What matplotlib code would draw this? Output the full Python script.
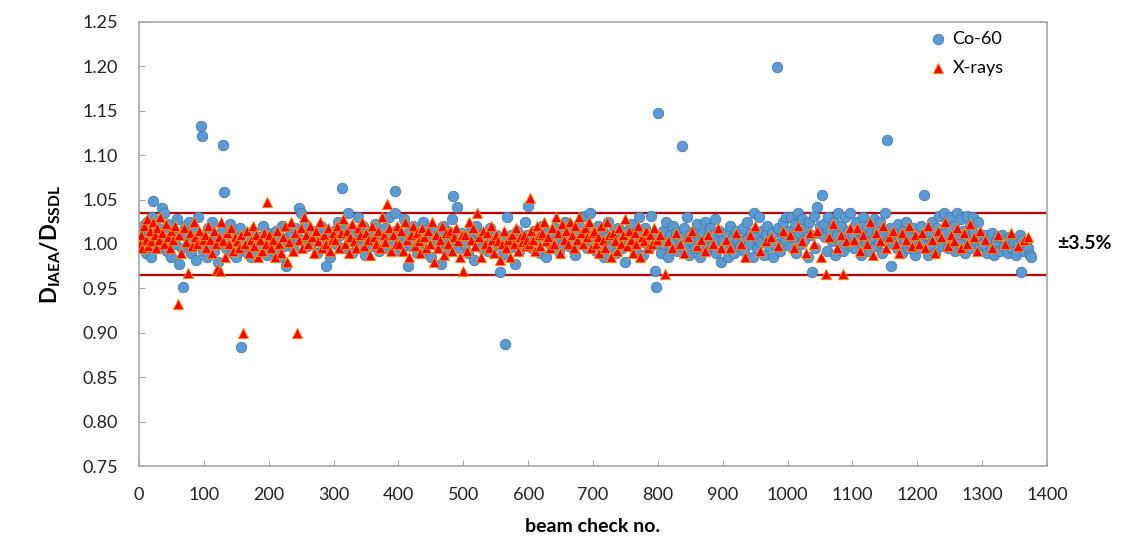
import matplotlib
matplotlib.use('Agg')
import matplotlib.pyplot as plt

plt.rcParams['font.family'] = ['Lato', 'DejaVu Sans']
plt.rcParams['mathtext.fontset'] = 'custom'
plt.rcParams['mathtext.rm'] = 'Lato'
plt.rcParams['mathtext.bf'] = 'Lato:bold'

# Co-60 beam checks (beam check no., D_IAEA/D_SSDL)
co60_x = [2, 4, 6, 9, 11, 13, 15, 18, 20, 22,
          25, 27, 29, 32, 35, 38, 40, 43, 45, 48,
          50, 53, 55, 58, 61, 63, 66, 68, 71, 74,
          77, 80, 83, 86, 88, 91, 94, 96, 97, 99,
          102, 105, 107, 110, 113, 116, 119, 122, 125, 128,
          130, 131, 134, 137, 140, 143, 146, 149, 152, 155,
          158, 161, 164, 167, 170, 173, 176, 179, 182, 185,
          188, 191, 194, 197, 199,
          202, 205, 208, 211, 214, 217, 220, 223, 226, 229,
          232, 235, 238, 241, 244, 247, 250, 253, 256, 259,
          262, 265, 268, 271, 274, 277, 280, 283, 286, 289,
          292, 295, 298,
          301, 304, 307, 310, 313, 316, 319, 322, 325, 328,
          331, 334, 337, 340, 343, 346, 349, 352, 355, 358,
          361, 364, 367, 370, 373, 376, 379, 382, 385, 388,
          391, 394, 395, 397, 399,
          402, 405, 408, 411, 414, 417, 420, 423, 426, 429,
          432, 435, 438, 441, 444, 447, 450, 453, 456, 459,
          462, 465, 468, 471, 474, 477, 480, 483, 484, 487,
          490, 493, 496, 499,
          502, 505, 508, 511, 514, 517, 520, 523, 526, 529,
          532, 535, 538, 541, 544, 547, 550, 553, 556, 559,
          562, 565, 568, 571, 574, 577, 580, 583, 586, 589,
          592, 595, 598, 600,
          603, 606, 609, 612, 615, 618, 621, 624, 627, 630,
          633, 636, 639, 642, 645, 648, 651, 654, 657, 660,
          663, 666, 669, 672, 675, 678, 681, 684, 687, 690,
          693, 696, 699,
          702, 705, 708, 711, 714, 717, 720, 723, 726, 729,
          732, 735, 738, 741, 744, 747, 750, 753, 756, 759,
          762, 765, 768, 771, 774, 777, 780, 783, 786, 789,
          792, 795, 797, 799, 800,
          803, 805, 808, 810, 813, 815, 818, 820, 823, 825,
          828, 830, 833, 835, 838, 840, 843, 845, 848, 850,
          853, 855, 858, 860, 863, 865, 868, 870, 873, 875,
          878, 880, 883, 885, 888, 890, 893, 895, 898,
          901, 903, 906, 908, 911, 913, 916, 918, 921, 923,
          926, 928, 931, 933, 936, 938, 941, 943, 946, 948,
          951, 953, 956, 958, 961, 963, 966, 968, 971, 973,
          976, 978, 981, 983, 986, 988, 991, 993, 996, 998,
          1001, 1003, 1006, 1008, 1011, 1013, 1016, 1018, 1021, 1023,
          1026, 1028, 1031, 1033, 1036, 1038, 1041, 1043, 1046, 1048,
          1050, 1053, 1056, 1058, 1061, 1063, 1066, 1068, 1071, 1073,
          1076, 1078, 1081, 1083, 1086, 1088, 1091, 1093, 1096, 1098,
          1101, 1103, 1106, 1108, 1111, 1113, 1116, 1118, 1121, 1123,
          1126, 1128, 1131, 1133, 1136, 1138, 1141, 1143, 1146, 1148,
          1151, 1153, 1156, 1158, 1160, 1163, 1166, 1168, 1171, 1173,
          1176, 1178, 1181, 1183, 1186, 1188, 1191, 1193, 1196, 1198,
          1201, 1203, 1206, 1208, 1210, 1213, 1216, 1218, 1221, 1223,
          1226, 1228, 1231, 1233, 1236, 1238, 1241, 1243, 1246, 1248,
          1251, 1253, 1256, 1258, 1261, 1263, 1266, 1268, 1271, 1273,
          1276, 1278, 1281, 1283, 1286, 1288, 1291, 1293, 1296, 1298,
          1301, 1304, 1307, 1310, 1313, 1316, 1319, 1322, 1325, 1328,
          1331, 1334, 1337, 1340, 1343, 1346, 1349, 1352, 1355, 1358,
          1360, 1362, 1365, 1368, 1371, 1374, 1376]
co60_y = [1.015, 0.998, 1.020, 1.005, 0.990, 1.025, 1.012, 0.985, 1.030, 1.048,
          1.008, 0.995, 1.018, 1.002, 1.040, 1.035, 1.010, 0.992, 1.022, 1.005,
          0.985, 1.015, 1.000, 1.028, 0.978, 1.010, 0.995, 0.952, 1.020, 1.008,
          1.025, 0.990, 1.003, 1.015, 0.982, 1.030, 1.010, 1.133, 1.122, 0.992,
          1.005, 0.985, 1.018, 1.000, 1.025, 0.992, 1.010, 0.980, 1.002, 1.015,
          1.111, 1.058, 0.995, 1.008, 1.022, 0.990, 1.012, 0.985, 1.000, 1.018,
          0.884, 1.005, 0.992, 1.010, 0.998, 0.985, 1.015, 1.002, 0.990, 1.008,
          0.995, 1.020, 1.003, 0.988, 1.012,
          1.000, 1.010, 0.992, 1.015, 1.005, 0.985, 1.020, 0.998, 0.975, 1.008,
          1.002, 1.012, 0.995, 1.018, 1.008, 1.040, 1.035, 1.005, 1.022, 0.998,
          1.010, 1.000, 1.015, 1.003, 0.990, 1.012, 1.020, 0.995, 1.008, 0.975,
          1.005, 0.985, 1.012,
          1.015, 1.000, 1.025, 1.010, 1.063, 0.995, 1.018, 1.035, 1.005, 0.990,
          1.012, 1.000, 1.030, 0.995, 1.008, 1.020, 0.988, 1.015, 1.002, 1.010,
          0.998, 1.022, 1.005, 0.992, 1.012, 1.003, 1.018, 0.995, 1.030, 1.008,
          1.000, 1.035, 1.060, 1.015, 0.993,
          1.010, 0.995, 1.028, 1.005, 0.975, 1.015, 0.998, 1.020, 1.003, 0.990,
          1.012, 1.000, 1.025, 0.992, 1.008, 1.018, 0.985, 1.005, 1.015, 0.998,
          1.010, 0.978, 1.020, 1.003, 0.992, 1.015, 1.000, 1.028, 1.054, 1.008,
          1.042, 0.995, 1.012, 1.002,
          1.000, 1.010, 0.990, 1.015, 1.005, 0.982, 1.020, 1.000, 1.008, 0.995,
          1.012, 1.003, 0.992, 1.018, 1.005, 0.998, 1.010, 1.000, 0.968, 0.988,
          1.005, 0.887, 1.030, 0.995, 1.010, 1.002, 0.978, 1.015, 0.992, 1.008,
          1.000, 1.025, 1.010, 1.043,
          1.005, 0.995, 1.015, 1.000, 1.010, 0.990, 1.020, 1.003, 0.985, 1.012,
          1.000, 1.008, 0.995, 1.018, 1.005, 0.992, 1.012, 1.000, 1.025, 1.008,
          0.998, 1.015, 1.003, 0.988, 1.010, 1.020, 1.000, 1.008, 1.032, 0.995,
          1.012, 1.035, 1.003,
          1.010, 0.992, 1.020, 1.000, 1.015, 0.985, 1.008, 1.025, 0.998, 1.012,
          1.003, 0.990, 1.018, 1.005, 0.995, 1.010, 0.980, 1.015, 1.000, 1.022,
          1.008, 0.992, 1.012, 1.030, 1.002, 0.988, 1.018, 1.005, 0.995, 1.032,
          1.010, 0.970, 0.952, 1.000, 1.147,
          1.005, 0.990, 1.015, 1.000, 1.025, 0.985, 1.010, 0.995, 1.020, 1.003,
          1.012, 0.992, 1.008, 0.998, 1.110, 1.018, 1.000, 1.030, 0.988, 1.010,
          1.002, 1.015, 0.995, 1.022, 1.005, 0.985, 1.012, 1.000, 1.025, 0.992,
          1.008, 1.018, 0.998, 1.010, 1.028, 0.990, 1.003, 1.015, 0.980,
          1.005, 0.995, 1.012, 0.985, 1.020, 1.000, 1.008, 0.990, 1.015, 1.003,
          0.998, 1.010, 1.018, 0.992, 1.005, 1.025, 1.000, 1.012, 0.985, 1.035,
          1.008, 0.995, 1.030, 1.002, 1.015, 0.988, 1.010, 1.020, 0.998, 1.005,
          1.012, 0.985, 1.000, 1.199, 1.018, 0.992, 1.008, 1.025, 1.003, 1.030,
          1.015, 0.998, 1.030, 1.008, 1.022, 0.990, 1.035, 1.012, 1.000, 1.028,
          1.005, 1.018, 0.985, 1.025, 1.010, 0.968, 1.032, 0.995, 1.042, 1.012,
          1.020, 1.055, 1.022, 1.008, 0.992, 1.030, 1.015, 1.003, 1.025, 0.988,
          1.010, 1.035, 1.000, 1.020, 0.992, 1.030, 1.008, 1.015, 1.035, 0.998,
          1.010, 0.995, 1.025, 1.003, 1.015, 0.988, 1.030, 1.008, 1.000, 1.020,
          0.992, 1.012, 1.005, 1.028, 0.998, 1.015, 1.002, 1.025, 0.990, 1.010,
          1.035, 1.117, 1.005, 1.018, 0.975, 1.000, 1.012, 0.995, 1.022, 1.008,
          0.990, 1.015, 1.003, 1.025, 0.995, 1.010, 1.000, 1.018, 0.988, 1.005,
          1.012, 0.995, 1.020, 1.003, 1.055, 1.010, 0.988, 1.015, 1.000, 1.025,
          1.005, 0.990, 1.018, 1.032, 1.008, 0.998, 1.035, 1.012, 1.025, 0.995,
          1.030, 1.005, 1.020, 0.992, 1.035, 1.010, 1.000, 1.028, 1.015, 0.990,
          1.032, 1.008, 1.020, 0.995, 1.030, 1.012, 1.003, 1.025, 0.998, 1.010,
          1.000, 1.010, 0.990, 1.005, 0.995, 1.012, 0.988, 1.003, 1.008, 0.992,
          1.010, 0.998, 1.005, 0.990, 1.008, 0.995, 1.002, 0.988, 1.000, 1.010,
          0.968, 1.005, 0.992, 1.000, 0.995, 0.988, 0.985]

# X-ray beam checks
xray_x = [1, 3, 5, 8, 10, 12, 14, 17, 19, 21,
          24, 26, 28, 31, 33, 36, 39, 42, 44, 47,
          49, 52, 56, 60, 62, 65, 69, 72, 75, 78,
          81, 84, 87, 90, 93, 98,
          101, 104, 106, 109, 112, 115, 118, 120, 123, 125,
          127, 130, 133, 136, 139, 142, 145, 148, 151, 154,
          157, 160, 163, 166, 169, 172, 175, 178, 181, 184,
          187, 190, 193, 196, 197,
          201, 204, 207, 210, 213, 216, 219, 222, 225, 228,
          231, 234, 237, 240, 243, 246, 249, 252, 255, 258,
          261, 264, 267, 270, 273, 276, 279, 282, 285, 288,
          291, 294, 297, 299,
          302, 305, 308, 311, 314, 317, 320, 323, 326, 329,
          332, 335, 338, 341, 344, 347, 350, 353, 356, 359,
          362, 365, 368, 371, 374, 377, 380, 382, 386, 389,
          392, 396, 398,
          401, 404, 407, 410, 413, 416, 419, 422, 425, 428,
          431, 434, 437, 440, 443, 446, 449, 452, 455, 458,
          461, 464, 467, 470, 473, 476, 479, 482, 486, 489,
          492, 495, 498, 500,
          503, 506, 509, 512, 515, 518, 521, 524, 527, 530,
          533, 536, 539, 542, 545, 548, 551, 554, 557, 560,
          563, 566, 569, 572, 575, 578, 581, 584, 587, 590,
          593, 596, 599, 603,
          601, 604, 607, 610, 613, 616, 619, 622, 625, 628,
          631, 634, 637, 640, 643, 646, 649, 652, 655, 658,
          661, 664, 667, 670, 673, 676, 679, 682, 685, 688,
          691, 694, 697, 699,
          701, 704, 707, 710, 713, 716, 719, 722, 725, 728,
          731, 734, 737, 740, 743, 746, 749, 752, 755, 758,
          761, 764, 767, 770, 773, 776, 779, 782, 785, 788,
          791, 794, 798,
          804, 811, 815, 822, 828, 834, 840, 847, 853, 860,
          866, 872, 878, 885, 892, 898,
          905, 912, 920, 928, 935, 942, 950, 958, 966, 975,
          985, 993,
          1004, 1010, 1016, 1022, 1028, 1034, 1040, 1046, 1052, 1059,
          1064, 1070, 1076, 1082, 1085, 1090, 1096,
          1102, 1107, 1112, 1117, 1122, 1127, 1132, 1137, 1142, 1147,
          1152, 1157, 1162, 1167, 1172, 1177, 1182, 1187, 1192, 1197,
          1202, 1207, 1212, 1217, 1222, 1227, 1232, 1237, 1242, 1247,
          1252, 1257, 1262, 1267, 1272, 1277, 1282, 1287, 1292, 1297,
          1305, 1315, 1325, 1335, 1345, 1355, 1365, 1370]
xray_y = [1.000, 1.010, 0.995, 1.020, 1.005, 1.028, 0.998, 1.015, 1.003, 1.025,
          1.010, 0.995, 1.018, 1.005, 1.030, 1.012, 1.000, 1.022, 1.008, 0.995,
          1.015, 1.005, 1.020, 0.932, 1.010, 0.990, 1.018, 1.002, 0.967, 1.012,
          0.998, 1.025, 1.008, 1.000, 1.015, 1.005,
          1.010, 0.995, 1.020, 1.005, 0.990, 1.015, 1.000, 0.972, 1.008, 0.970,
          1.025, 1.003, 0.985, 1.012, 1.000, 1.018, 0.992, 1.008, 1.003, 0.995,
          1.010, 0.900, 1.000, 1.015, 0.990, 1.005, 1.020, 0.998, 1.010, 0.985,
          1.005, 0.992, 1.012, 1.000, 1.047,
          1.010, 0.995, 1.005, 0.985, 1.015, 1.000, 0.990, 1.008, 1.020, 0.980,
          1.002, 1.025, 0.992, 1.012, 0.900, 1.005, 1.018, 0.995, 1.030, 1.010,
          1.000, 1.020, 1.008, 0.990, 1.015, 1.003, 1.025, 0.995, 1.010, 1.000,
          1.018, 0.992, 1.005, 1.012,
          1.005, 1.020, 0.995, 1.012, 1.028, 1.000, 1.015, 0.990, 1.008, 1.022,
          1.003, 0.995, 1.018, 1.010, 1.025, 0.998, 1.012, 1.005, 0.988, 1.020,
          1.008, 1.000, 1.015, 0.995, 1.030, 1.010, 1.002, 1.045, 1.018, 0.992,
          1.010, 1.000, 1.020,
          1.000, 1.015, 0.992, 1.025, 1.005, 0.985, 1.010, 1.020, 0.998, 1.012,
          1.003, 0.990, 1.018, 1.008, 0.995, 1.015, 1.000, 1.025, 0.980, 1.010,
          0.995, 1.005, 1.020, 0.988, 1.012, 1.000, 1.015, 0.992, 1.008, 1.018,
          1.003, 0.985, 1.010, 0.970,
          1.010, 0.992, 1.025, 1.005, 1.018, 0.998, 1.035, 1.008, 0.985, 1.015,
          1.000, 1.012, 0.995, 1.020, 1.005, 0.990, 1.010, 1.003, 0.982, 1.000,
          1.015, 0.995, 1.005, 0.985, 1.010, 1.000, 1.018, 0.992, 1.008, 1.002,
          1.010, 0.998, 1.005, 1.052,
          1.000, 1.015, 1.005, 0.992, 1.020, 1.010, 0.998, 1.012, 1.025, 1.003,
          1.008, 0.995, 1.018, 1.000, 1.030, 1.012, 0.990, 1.022, 1.005, 1.015,
          1.000, 1.025, 1.010, 0.995, 1.020, 1.005, 1.030, 1.012, 1.000, 1.018,
          1.008, 1.025, 0.995, 1.012,
          1.015, 1.000, 1.008, 0.990, 1.020, 1.005, 0.995, 1.025, 1.010, 0.985,
          1.012, 1.003, 0.992, 1.018, 1.000, 1.010, 1.028, 0.998, 1.015, 1.005,
          0.990, 1.012, 1.000, 1.020, 0.985, 1.008, 1.003, 1.015, 0.995, 1.010,
          1.000, 1.018, 1.005,
          1.010, 0.966, 1.003, 0.995, 1.012, 1.000, 0.990, 1.008, 1.015, 0.998,
          1.005, 0.992, 1.010, 1.000, 1.018, 0.995,
          1.005, 0.995, 1.012, 1.000, 0.985, 1.010, 1.020, 0.992, 1.003, 1.008,
          0.998, 1.015,
          1.010, 0.995, 1.020, 1.003, 0.990, 1.012, 1.000, 1.015, 0.985, 0.966,
          1.008, 1.022, 0.995, 1.010, 0.966, 1.003, 1.018,
          1.005, 1.018, 0.992, 1.010, 1.000, 1.025, 0.988, 1.012, 1.003, 1.020,
          0.995, 1.008, 1.015, 1.000, 0.990, 1.012, 1.005, 1.020, 0.998, 1.010,
          1.000, 1.012, 0.995, 1.020, 1.005, 0.990, 1.015, 1.008, 1.025, 0.998,
          1.010, 1.003, 1.018, 0.995, 1.012, 1.000, 1.022, 1.008, 0.992, 1.015,
          1.005, 0.995, 1.010, 1.000, 1.012, 0.998, 1.005, 1.008]

tolerance = 0.035
x_ticks = list(range(0, 1401, 100))
y_ticks = [0.75, 0.80, 0.85, 0.90, 0.95, 1.00, 1.05, 1.10, 1.15, 1.20, 1.25]

fig = plt.figure(figsize=(11.23, 5.43), dpi=100)
ax = fig.add_axes([0.1238, 0.1418, 0.8085, 0.8177])

ax.axhline(1 + tolerance, color='#C00000', linewidth=1.6, zorder=1)
ax.axhline(1 - tolerance, color='#C00000', linewidth=1.6, zorder=1)

ax.scatter(co60_x, co60_y, s=58, marker='o', facecolor='#5B9BD5',
           edgecolor='#41719C', linewidth=0.5, label='Co-60', zorder=2)
ax.scatter(xray_x, xray_y, s=56, marker='^', facecolor='#FF0000',
           edgecolor='#FF9900', linewidth=0.6, label='X-rays', zorder=3)

ax.set_xlim(0, 1400)
ax.set_ylim(0.75, 1.25)
ax.set_xticks(x_ticks)
ax.set_yticks(y_ticks)
ax.set_yticklabels(['%.2f' % v for v in y_ticks])
ax.tick_params(axis='both', direction='in', length=4.5, color='#A6A6A6',
               labelsize=13, labelcolor='#222222')
ax.tick_params(axis='y', pad=15)
ax.tick_params(axis='x', pad=15)
for sp in ax.spines.values():
    sp.set_color('#A6A6A6')
    sp.set_linewidth(1.2)

ax.set_xlabel('beam check no.', fontsize=14, fontweight='bold', labelpad=11)
ax.set_ylabel(r'$\mathbf{D_{IAEA}/D_{SSDL}}$', fontsize=16, labelpad=14)

ax.text(1.011, 0.5, '±3.5%', transform=ax.transAxes, fontsize=14,
        fontweight='bold', va='center', ha='left')

ax.legend(loc='upper left', bbox_to_anchor=(0.872, 0.98), frameon=False,
          fontsize=13, handlelength=0.8, handletextpad=0.4,
          labelspacing=0.7, borderpad=0, borderaxespad=0)

fig.savefig('out.png', dpi=100)
